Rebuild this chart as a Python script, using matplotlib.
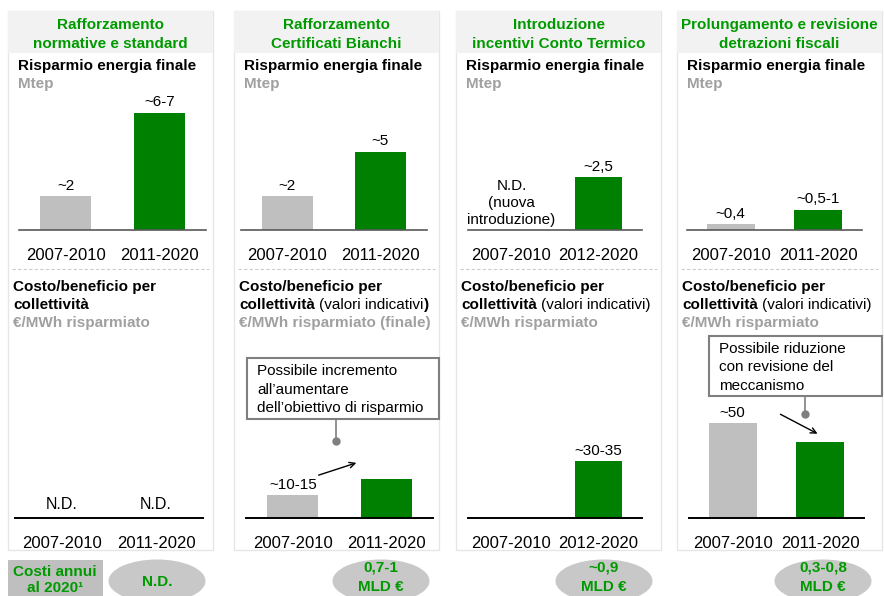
import matplotlib.pyplot as plt
from matplotlib.patches import Rectangle, Ellipse

plt.rcParams['font.family'] = ['Liberation Sans', 'DejaVu Sans']

W, H = 884, 596

# dati
titoli = [['Rafforzamento', 'normative e standard'],
          ['Rafforzamento', 'Certificati Bianchi'],
          ['Introduzione', 'incentivi Conto Termico'],
          ['Prolungamento e revisione', 'detrazioni fiscali']]
periodi = [['2007-2010', '2011-2020'], ['2007-2010', '2011-2020'],
           ['2007-2010', '2012-2020'], ['2007-2010', '2011-2020']]
# Risparmio energia finale, Mtep (altezza delle barre)
risparmio = [[2.0, 6.9], [2.0, 4.6], [None, 3.1], [0.35, 1.2]]
risparmio_etich = [['~2', '~6-7'], ['~2', '~5'], ['', '~2,5'], ['~0,4', '~0,5-1']]
# Costo/beneficio per collettività, €/MWh risparmiato
costo = [[None, None], [12, 20.5], [None, 30], [50, 40]]
costo_etich = [['', ''], ['~10-15', ''], ['', '~30-35'], ['~50', '']]
costi_annui = [['N.D.'], ['0,7-1', 'MLD €'], ['~0,9', 'MLD €'], ['0,3-0,8', 'MLD €']]

GRIGIO = '#BFBFBF'
VERDE = '#008000'
VERDE_TXT = '#009A00'
GRIGIO_TXT = '#A0A0A0'

# geometria (pixel)
pannelli = [(8, 213), (234, 439), (456, 661), (677, 882)]
assi_sopra = [(19, 206), (241, 427), (468, 642), (687, 862)]
assi_sotto = [(15, 203), (246, 433), (468, 642), (689, 864)]
ellissi_cx = [157, 381, 604, 823]

fig = plt.figure(figsize=(W / 100, H / 100), dpi=100)
deco = fig.add_axes([0, 0, 1, 1])
deco.set_xlim(0, W)
deco.set_ylim(H, 0)
deco.axis('off')


def riga(x, y, pezzi, size=11):
    # pezzi: (testo, peso, colore, spazio prima in pt)
    t = None
    for testo, peso, col, gap in pezzi:
        if t is None:
            t = deco.text(x, y, testo, fontsize=size, weight=peso, color=col,
                          ha='left', va='center')
        else:
            t = deco.annotate(testo, xy=(1, 0.5), xycoords=t, xytext=(gap, 0),
                              textcoords='offset points', fontsize=size,
                              weight=peso, color=col, ha='left', va='center')
    return t


for i, (px0, px1) in enumerate(pannelli):
    # sfondo pannello
    deco.add_patch(Rectangle((px0, 11), px1 - px0, 539, fc='white', ec='#E6E6E6', lw=1))
    deco.add_patch(Rectangle((px0, 11), px1 - px0, 42, fc='#F2F2F2', ec='none'))
    cx = (px0 + px1) / 2
    deco.text(cx, 25, titoli[i][0], fontsize=11, weight='bold', color=VERDE_TXT,
              ha='center', va='center')
    deco.text(cx, 43.5, titoli[i][1], fontsize=11, weight='bold', color=VERDE_TXT,
              ha='center', va='center')
    deco.text(px0 + 10, 66, 'Risparmio energia finale', fontsize=11, weight='bold',
              ha='left', va='center')
    deco.text(px0 + 10, 84, 'Mtep', fontsize=11, weight='bold', color=GRIGIO_TXT,
              ha='left', va='center')
    deco.plot([px0 + 4, px1 - 4], [269, 269], color='#CCCCCC', lw=0.8,
              dashes=(3, 2))

    # titoli sezione costo/beneficio
    lx = px0 + 5
    riga(lx, 287, [('Costo/beneficio per', 'bold', 'black', 0)])
    if i == 0:
        riga(lx, 305, [('collettività', 'bold', 'black', 0)])
        riga(lx, 323, [('€/MWh risparmiato', 'bold', GRIGIO_TXT, 0)])
    elif i == 1:
        riga(lx, 305, [('collettività', 'bold', 'black', 0),
                       ('(valori indicativi', 'normal', 'black', 3),
                       (')', 'bold', 'black', 0.4)])
        riga(lx, 323, [('€/MWh risparmiato (finale)', 'bold', GRIGIO_TXT, 0)])
    else:
        riga(lx, 305, [('collettività', 'bold', 'black', 0),
                       ('(valori indicativi)', 'normal', 'black', 3)])
        riga(lx, 323, [('€/MWh risparmiato', 'bold', GRIGIO_TXT, 0)])

    # ellissi costi annui
    deco.add_patch(Ellipse((ellissi_cx[i], 581), 97, 43, fc='#C8C8C8', ec='none'))
    righe = costi_annui[i]
    if len(righe) == 1:
        deco.text(ellissi_cx[i], 582, righe[0], fontsize=11, weight='bold',
                  color=VERDE_TXT, ha='center', va='center')
    else:
        deco.text(ellissi_cx[i], 568, righe[0], fontsize=11, weight='bold',
                  color=VERDE_TXT, ha='center', va='center')
        deco.text(ellissi_cx[i], 587, righe[1], fontsize=11, weight='bold',
                  color=VERDE_TXT, ha='center', va='center')

# riquadro "Costi annui al 2020"
deco.add_patch(Rectangle((8, 560), 95, 40, fc='#BFBFBF', ec='none'))
deco.text(55, 572, 'Costi annui', fontsize=11, weight='bold', color=VERDE_TXT,
          ha='center', va='center')
deco.text(55, 587.5, 'al 2020¹', fontsize=11, weight='bold', color=VERDE_TXT,
          ha='center', va='center')

# box di commento
deco.add_patch(Rectangle((247, 358), 192, 61, fc='white', ec='#7F7F7F', lw=1.5))
for y, t in zip([371, 389.5, 408], ['Possibile incremento', 'all’aumentare',
                                    'dell’obiettivo di risparmio']):
    deco.text(257, y, t, fontsize=11, ha='left', va='center')
deco.plot([336, 336], [419, 441], color='#7F7F7F', lw=1.2)
deco.plot([336], [441], 'o', color='#7F7F7F', ms=5)
deco.annotate('', xy=(359, 462), xytext=(316, 476),
              arrowprops=dict(arrowstyle='->', color='black', lw=1))

deco.add_patch(Rectangle((709, 336), 173, 60, fc='white', ec='#7F7F7F', lw=1.5))
for y, t in zip([349, 367, 386], ['Possibile riduzione', 'con revisione del',
                                  'meccanismo']):
    deco.text(719, y, t, fontsize=11, ha='left', va='center')
deco.plot([805, 805], [396, 414], color='#7F7F7F', lw=1.2)
deco.plot([805], [414], 'o', color='#7F7F7F', ms=5)
deco.annotate('', xy=(820, 435), xytext=(778, 413),
              arrowprops=dict(arrowstyle='->', color='black', lw=1))


def grafico(x0, x1, ybase, ytop, ymax, valori, etichette, categorie, colore_asse, lw_asse):
    ax = fig.add_axes([x0 / W, 1 - ybase / H, (x1 - x0) / W, (ybase - ytop) / H])
    ax.set_facecolor('none')
    ax.set_xlim(0, 2)
    ax.set_ylim(0, ymax)
    for k, (v, lab) in enumerate(zip(valori, etichette)):
        if v is None:
            continue
        b = ax.bar(0.5 + k, v, width=0.55, color=[GRIGIO, VERDE][k])
        if lab:
            ax.bar_label(b, labels=[lab], padding=2.5, fontsize=11)
    ax.set_xticks([0.5, 1.5], categorie, fontsize=12)
    ax.tick_params(axis='x', length=0, pad=13)
    ax.set_yticks([])
    for s in ['left', 'right', 'top']:
        ax.spines[s].set_visible(False)
    ax.spines['bottom'].set_color(colore_asse)
    ax.spines['bottom'].set_linewidth(lw_asse)
    return ax


for i in range(4):
    a = grafico(assi_sopra[i][0], assi_sopra[i][1], 230, 90, 140 / 17,
                risparmio[i], risparmio_etich[i], periodi[i], '#595959', 1.2)
    if i == 2:
        a.annotate('N.D.\n(nuova\nintroduzione)', xy=(0.5, 0), xytext=(0, 2),
                   textcoords='offset points', ha='center', va='bottom',
                   fontsize=11, linespacing=1.3)
    b = grafico(assi_sotto[i][0], assi_sotto[i][1], 518, 330, 188 / 1.9,
                costo[i], costo_etich[i], periodi[i], 'black', 1.4)
    if i == 0:
        for k in range(2):
            b.annotate('N.D.', xy=(0.5 + k, 0), xytext=(0, 4),
                       textcoords='offset points', ha='center', va='bottom',
                       fontsize=11.5)

fig.savefig('out.png', dpi=100)
